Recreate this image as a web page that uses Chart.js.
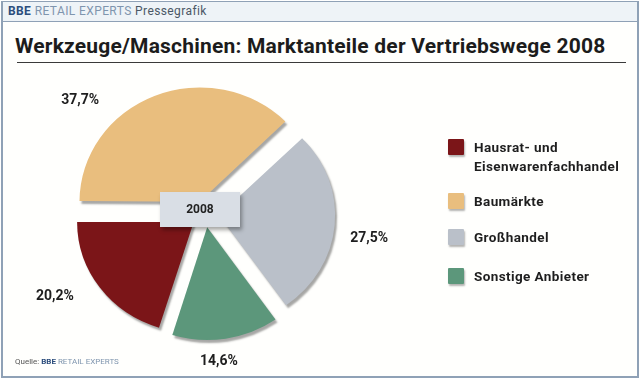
<!DOCTYPE html>
<html>
<head>
<meta charset="utf-8">
<script src="https://cdn.jsdelivr.net/npm/chart.js@4.4.0/dist/chart.umd.min.js"></script>
<style>
  html, body { margin: 0; padding: 0; background: #ffffff; }
  #frame {
    position: relative; margin: 1px;
    border: 2px solid #8fa1b6; border-top-width: 1px; box-sizing: border-box;
    width: 638px; height: 377px; background: #fffffd; overflow: hidden;
    font-family: Roboto, "Liberation Sans", sans-serif;
  }
  #header {
    position: absolute; left: 0; top: 0; right: 0; height: 19px;
    background: #eef3f7; border-bottom: 1px solid #8fa1b6;
    font-size: 12px; letter-spacing: 0.4px; line-height: 19px; padding-left: 5px; color: #4b5866;
  }
  #header b { color: #2c4d7c; }
  #header span.re { color: #7f95ae; }
  #title {
    position: absolute; left: 12px; top: 32px; font-size: 21px; font-weight: bold;
    letter-spacing: 0.2px; color: #1c1c1c; white-space: nowrap;
  }
  #rule { position: absolute; left: 14px; top: 60px; width: 609px; height: 1px; background: #3a3a3a; }
  #chartBox { position: absolute; left: 0; top: 0; width: 636px; height: 376px; }
  #yearBox {
    position: absolute; left: 157px; top: 190px; width: 80px; height: 35px;
    background: #d9dee5; box-shadow: 2px 3px 4px rgba(0,0,0,0.35);
    font-size: 12px; font-weight: bold; color: #222; text-align: center; line-height: 35px;
  }
  #legend { position: absolute; left: 445px; top: 0; font-size: 13.5px; font-weight: bold; letter-spacing: 0.4px; color: #1e1e1e; }
  .item { position: absolute; left: 0; white-space: nowrap; }
  .sw { position: absolute; left: 0; width: 16px; height: 16px; box-shadow: 1px 2px 2px rgba(0,0,0,0.3); border-radius: 1px; }
  .lt { position: absolute; left: 26px; line-height: 19px; }
  #source { position: absolute; left: 12px; top: 355px; font-size: 8px; color: #555; }
  #source b { color: #2c4d7c; }
  #source span { color: #7f95ae; }
</style>
</head>
<body>
<div id="frame">
  <div id="header"><b>BBE</b> <span class="re">RETAIL EXPERTS</span> Pressegrafik</div>
  <div id="title">Werkzeuge/Maschinen: Marktanteile der Vertriebswege 2008</div>
  <div id="rule"></div>
  <div id="chartBox"><canvas id="pie"></canvas></div>
  <div id="yearBox">2008</div>
  <div id="legend"></div>
  <div id="source">Quelle: <b>BBE</b> <span>RETAIL EXPERTS</span></div>
</div>
<script>
// Marktanteile 2008 in Prozent
const categories = [['Hausrat- und', 'Eisenwarenfachhandel'], 'Baumärkte', 'Großhandel', 'Sonstige Anbieter'];
const shares = [20.2, 37.7, 27.5, 14.6];
const shareLabels = ['20,2%', '37,7%', '27,5%', '14,6%'];
const colors = ['#7b1518', '#e9be7e', '#bac0c9', '#5c977b'];

// Baumärkte beginnt links (9 Uhr), im Uhrzeigersinn
const total = shares.reduce((a, b) => a + b, 0);
const startRotation = -90 - shares[0] / total * 360;

// HTML-Legende aus den Arrays
const legendEl = document.getElementById('legend');
const legendTops = [137, 191, 227, 266];
categories.forEach((c, i) => {
    const item = document.createElement('div');
    item.className = 'item';
    item.style.top = legendTops[i] + 'px';
    const sw = document.createElement('div');
    sw.className = 'sw';
    sw.style.background = colors[i];
    const txt = document.createElement('div');
    txt.className = 'lt';
    txt.style.top = '-1px';
    txt.innerHTML = Array.isArray(c) ? c.join('<br>') : c;
    item.appendChild(sw);
    item.appendChild(txt);
    legendEl.appendChild(item);
});

// Prozentwerte neben die Segmente schreiben
const pctLabels = {
    id: 'pctLabels',
    afterDatasetsDraw(chart, args, opts) {
        const ctx = chart.ctx;
        const meta = chart.getDatasetMeta(0);
        ctx.save();
        ctx.font = 'bold 14px Roboto, "Liberation Sans", sans-serif';
        ctx.fillStyle = '#1e1e1e';
        ctx.textAlign = 'center';
        ctx.textBaseline = 'middle';
        meta.data.forEach((arc, i) => {
            const mid = (arc.startAngle + arc.endAngle) / 2 + opts.shift[i] * Math.PI / 180;
            const d = opts.dist[i];
            ctx.fillText(shareLabels[i], arc.x + Math.cos(mid) * d, arc.y + Math.sin(mid) * d);
        });
        ctx.restore();
    }
};

// Torte leicht flach gedrueckt + Schatten fuer den 3D-Eindruck
const sliceShadow = {
    id: 'sliceShadow',
    beforeDatasetsDraw(chart, args, opts) {
        const ctx = chart.ctx;
        const arc = chart.getDatasetMeta(0).data[0];
        ctx.save();
        ctx.translate(arc.x, arc.y);
        ctx.scale(1, opts.squash);
        ctx.translate(-arc.x, -arc.y);
        ctx.shadowColor = 'rgba(0,0,0,0.35)';
        ctx.shadowOffsetX = 2;
        ctx.shadowOffsetY = 3;
        ctx.shadowBlur = 2;
    },
    afterDatasetsDraw(chart) {
        chart.ctx.restore();
    }
};

new Chart(document.getElementById('pie'), {
    type: 'pie',
    data: {
        labels: categories,
        datasets: [{
            data: shares,
            backgroundColor: colors,
            borderWidth: 0,
            offset: 56, // Chart.js v4 verschiebt um offset/4
            hoverOffset: 0
        }]
    },
    options: {
        responsive: true,
        maintainAspectRatio: false,
        animation: false,
        rotation: startRotation,
        radius: 116,
        layout: { padding: { left: 0, right: 232, top: 48, bottom: 0 } },
        plugins: {
            legend: { display: false },
            tooltip: { enabled: false },
            sliceShadow: { squash: 0.95 },
            pctLabels: { shift: [7.7, -25.5, 3.1, 3.6], dist: [171, 169, 166, 148] }
        }
    },
    plugins: [sliceShadow, pctLabels]
});
</script>
</body>
</html>
